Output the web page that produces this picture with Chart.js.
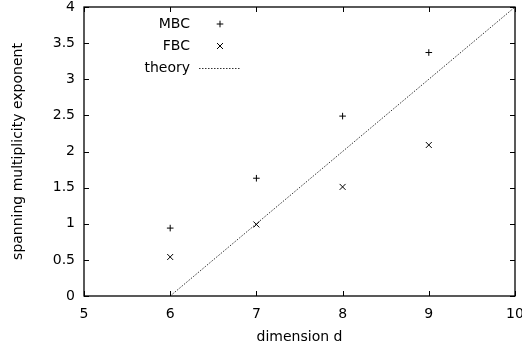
<!DOCTYPE html>
<html>
<head>
<meta charset="utf-8">
<script src="https://cdn.jsdelivr.net/npm/chart.js@4/dist/chart.umd.min.js"></script>
<style>
html,body{margin:0;padding:0;background:#fff;}
#wrap{width:522px;height:351px;}
</style>
</head>
<body>
<div id="wrap"><canvas id="c" width="522" height="351"></canvas></div>
<script>
const dimensions = [6, 7, 8, 9];
const mbcValues = [0.94, 1.63, 2.49, 3.37];
const fbcValues = [0.54, 0.99, 1.51, 2.09];
const theoryX = [6, 10];
const theoryY = [0, 4];
const xTicks = [5, 6, 7, 8, 9, 10];
const yTicks = [0, 0.5, 1, 1.5, 2, 2.5, 3, 3.5, 4];
const seriesLabels = ['MBC', 'FBC', 'theory'];

const FONT = {family: "'DejaVu Sans', sans-serif", size: 14};

const framePlugin = {
  id: 'frame',
  afterDraw(chart) {
    const {ctx, chartArea: a, scales: {x, y}} = chart;
    ctx.save();
    ctx.strokeStyle = '#000';
    ctx.lineWidth = 1.3;
    ctx.strokeRect(a.left, a.top, a.right - a.left, a.bottom - a.top);
    ctx.lineWidth = 1;
    const L = 5;
    ctx.beginPath();
    xTicks.forEach(v => {
      const px = Math.round(x.getPixelForValue(v)) + 0.5;
      ctx.moveTo(px, a.bottom); ctx.lineTo(px, a.bottom - L);
      ctx.moveTo(px, a.top); ctx.lineTo(px, a.top + L);
    });
    yTicks.forEach(v => {
      const py = Math.round(y.getPixelForValue(v)) + 0.5;
      ctx.moveTo(a.left, py); ctx.lineTo(a.left + L, py);
      ctx.moveTo(a.right, py); ctx.lineTo(a.right - L, py);
    });
    ctx.stroke();

    // key (gnuplot style: text then sample)
    ctx.font = FONT.size + 'px ' + FONT.family;
    ctx.fillStyle = '#000';
    ctx.textAlign = 'right';
    ctx.textBaseline = 'middle';
    const textRight = a.left + 106;
    const sampleL = a.left + 115, sampleR = a.left + 157;
    const sampleC = (sampleL + sampleR) / 2;
    const rows = [a.top + 17, a.top + 39, a.top + 61];
    chart.data.datasets.forEach((ds, i) => {
      const ry = rows[i];
      ctx.fillText(ds.label, textRight, ry);
      ctx.beginPath();
      ctx.lineWidth = 1;
      if (ds.pointStyle === 'cross') {
        const r = 3.3;
        ctx.moveTo(sampleC - r, ry); ctx.lineTo(sampleC + r, ry);
        ctx.moveTo(sampleC, ry - r); ctx.lineTo(sampleC, ry + r);
        ctx.stroke();
      } else if (ds.pointStyle === 'crossRot') {
        const r = 3;
        ctx.moveTo(sampleC - r, ry - r); ctx.lineTo(sampleC + r, ry + r);
        ctx.moveTo(sampleC - r, ry + r); ctx.lineTo(sampleC + r, ry - r);
        ctx.stroke();
      } else {
        ctx.setLineDash(ds.borderDash || []);
        ctx.strokeStyle = ds.borderColor;
        ctx.moveTo(sampleL, ry + 0.5); ctx.lineTo(sampleR, ry + 0.5);
        ctx.stroke();
        ctx.setLineDash([]);
        ctx.strokeStyle = '#000';
      }
    });
    ctx.restore();
  }
};

function zeroPad(s) { s.paddingLeft = 0; s.paddingRight = 0; s.paddingTop = 0; s.paddingBottom = 0; }

new Chart(document.getElementById('c'), {
  type: 'scatter',
  data: {
    datasets: [
      {
        label: seriesLabels[0],
        data: dimensions.map((d, i) => ({x: d, y: mbcValues[i]})),
        pointStyle: 'cross', pointRadius: 3.3, pointBorderWidth: 1,
        borderColor: '#000', backgroundColor: '#000', showLine: false
      },
      {
        label: seriesLabels[1],
        data: dimensions.map((d, i) => ({x: d, y: fbcValues[i]})),
        pointStyle: 'crossRot', pointRadius: 4.2, pointBorderWidth: 1,
        borderColor: '#000', backgroundColor: '#000', showLine: false
      },
      {
        label: seriesLabels[2],
        data: theoryX.map((v, i) => ({x: v, y: theoryY[i]})),
        showLine: true, pointRadius: 0, borderWidth: 1,
        borderColor: '#333', borderDash: [1.5, 1.5], fill: false
      }
    ]
  },
  options: {
    responsive: false,
    animation: false,
    devicePixelRatio: 1,
    layout: {autoPadding: false, padding: {top: 7, right: 7, left: 0, bottom: 0}},
    plugins: {legend: {display: false}, tooltip: {enabled: false}},
    scales: {
      x: {
        type: 'linear', min: 5, max: 10,
        afterBuildTicks: s => { s.ticks = xTicks.map(v => ({value: v})); },
        afterFit: s => { s.height = 55; zeroPad(s); },
        grid: {display: false, drawTicks: false},
        border: {display: false},
        ticks: {color: '#000', font: FONT, padding: 10, autoSkip: false, maxRotation: 0, callback: v => String(v)},
        title: {display: true, text: 'dimension d', color: '#000', font: FONT, padding: {top: 0, bottom: 5.6}}
      },
      y: {
        type: 'linear', min: 0, max: 4,
        afterBuildTicks: s => { s.ticks = yTicks.map(v => ({value: v})); },
        afterFit: s => { s.width = 84; zeroPad(s); },
        grid: {display: false, drawTicks: false},
        border: {display: false},
        ticks: {color: '#000', font: FONT, padding: 9, autoSkip: false, callback: v => String(v)},
        title: {display: true, text: 'spanning multiplicity exponent', color: '#000', font: FONT, padding: {top: 9.6, bottom: 0}}
      }
    }
  },
  plugins: [framePlugin]
});
</script>
</body>
</html>
